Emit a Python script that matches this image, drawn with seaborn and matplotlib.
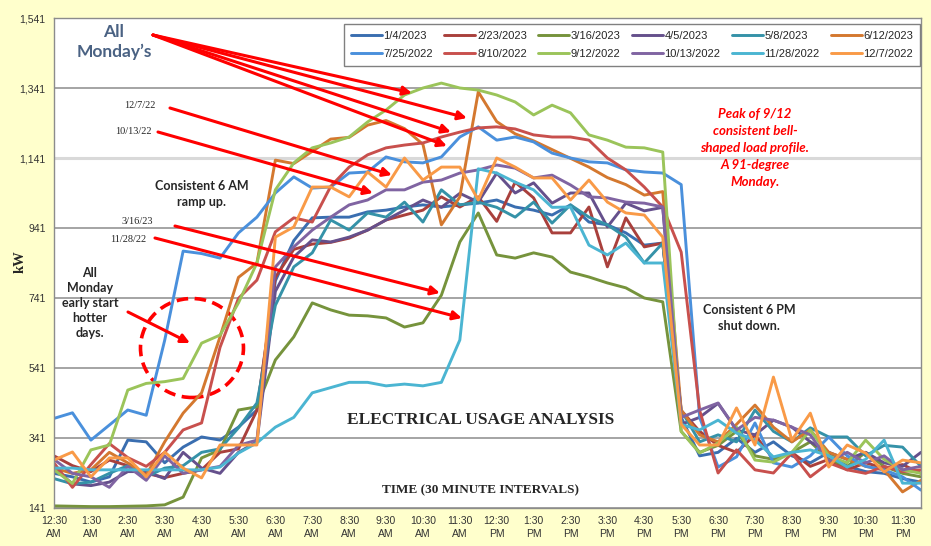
"""
Monday load profiles - electrical usage analysis (30 minute intervals).
"""
import numpy as np
import pandas as pd
import matplotlib
matplotlib.use("Agg")
import matplotlib.pyplot as plt
from matplotlib.patches import Ellipse
import seaborn as sns

# ---- data -------------------------------------------------------------
tick_labels = ["12:30\nAM", "1:30\nAM", "2:30\nAM", "3:30\nAM", "4:30\nAM", "5:30\nAM",
               "6:30\nAM", "7:30\nAM", "8:30\nAM", "9:30\nAM", "10:30\nAM", "11:30\nAM",
               "12:30\nPM", "1:30\nPM", "2:30\nPM", "3:30\nPM", "4:30\nPM", "5:30\nPM",
               "6:30\nPM", "7:30\nPM", "8:30\nPM", "9:30\nPM", "10:30\nPM", "11:30\nPM"]

dates = ["1/4/2023", "2/23/2023", "3/16/2023", "4/5/2023", "5/8/2023", "6/12/2023",
         "7/25/2022", "8/10/2022", "9/12/2022", "10/13/2022", "11/28/2022", "12/7/2022"]

kw_0104 = [240, 230, 215, 230, 335, 330, 270, 315, 344, 335, 372, 421,
           790, 905, 970, 972, 972, 987, 992, 1001, 1007, 1001, 1007, 1012,
           1021, 1001, 992, 978, 1007, 958, 950, 927, 892, 898, 400, 290,
           300, 340, 300, 330, 290, 270, 300, 260, 245, 240, 225, 215]
kw_0223 = [290, 262, 245, 278, 262, 240, 228, 240, 250, 300, 310, 420,
           800, 880, 895, 900, 912, 935, 964, 978, 992, 1030, 1001, 1030,
           960, 1072, 1027, 927, 927, 1001, 830, 970, 887, 898, 420, 360,
           320, 300, 350, 280, 300, 260, 280, 250, 270, 255, 265, 240]
kw_0316 = [147, 146, 145, 145, 146, 147, 150, 172, 284, 307, 421, 430,
           564, 630, 727, 707, 692, 690, 684, 658, 670, 749, 901, 984,
           864, 855, 870, 858, 815, 801, 784, 770, 741, 730, 360, 300,
           320, 360, 290, 280, 300, 330, 280, 260, 300, 260, 240, 230]
kw_0405 = [255, 210, 205, 215, 245, 245, 225, 300, 255, 240, 300, 330,
           760, 858, 907, 901, 915, 935, 964, 992, 1021, 1000, 1040, 1015,
           1098, 1041, 1070, 1012, 1041, 1041, 944, 1012, 990, 1000, 380, 400,
           440, 364, 350, 392, 372, 330, 300, 280, 300, 270, 260, 300]
kw_0508 = [225, 210, 215, 240, 262, 230, 255, 262, 300, 310, 370, 441,
           720, 830, 870, 964, 935, 984, 972, 1015, 958, 1050, 1007, 1015,
           1000, 972, 1015, 955, 1007, 972, 950, 915, 841, 898, 420, 330,
           350, 330, 421, 360, 330, 370, 344, 344, 290, 320, 315, 260]
kw_0612 = [255, 240, 250, 300, 270, 235, 330, 412, 470, 630, 800, 841,
           1135, 1125, 1160, 1195, 1200, 1235, 1248, 1225, 1180, 950, 1030, 1330,
           1245, 1210, 1190, 1165, 1140, 1115, 1085, 1065, 1035, 1045, 420, 350,
           330, 380, 435, 372, 330, 364, 300, 280, 260, 250, 187, 220]
kw_0725 = [397, 413, 335, 378, 421, 406, 620, 875, 868, 855, 927, 972,
           1041, 1087, 1055, 1058, 1098, 1101, 1144, 1130, 1127, 1144, 1201, 1230,
           1192, 1201, 1187, 1155, 1141, 1130, 1127, 1107, 1101, 1098, 1065, 400,
           258, 287, 384, 270, 258, 290, 344, 290, 260, 250, 230, 192]
kw_0810 = [270, 200, 265, 325, 285, 260, 300, 364, 384, 600, 740, 792,
           930, 970, 958, 1060, 1115, 1150, 1170, 1178, 1184, 1201, 1215, 1227,
           1230, 1224, 1207, 1201, 1201, 1192, 1141, 1107, 1058, 1001, 872, 420,
           241, 307, 250, 241, 298, 230, 270, 250, 240, 260, 245, 250]
kw_0912 = [250, 211, 307, 321, 478, 497, 502, 511, 612, 635, 727, 841,
           1050, 1127, 1170, 1184, 1201, 1244, 1278, 1321, 1341, 1355, 1341, 1335,
           1321, 1301, 1264, 1292, 1270, 1207, 1192, 1172, 1170, 1158, 360, 298,
           327, 372, 278, 272, 300, 364, 290, 270, 335, 280, 250, 240]
kw_1013 = [280, 240, 230, 200, 260, 220, 290, 240, 250, 260, 320, 335,
           830, 887, 935, 972, 1007, 1021, 1050, 1050, 1072, 1078, 1098, 1107,
           1121, 1112, 1084, 1092, 1064, 1030, 1027, 1015, 1012, 1001, 400, 421,
           441, 364, 400, 392, 372, 350, 275, 300, 270, 290, 250, 260]
kw_1128 = [255, 255, 250, 250, 250, 250, 250, 250, 250, 258, 298, 327,
           372, 400, 470, 485, 500, 500, 490, 495, 490, 500, 621, 1110,
           1098, 1072, 1050, 1000, 1001, 892, 864, 898, 841, 841, 380, 364,
           392, 355, 335, 287, 300, 307, 290, 258, 280, 335, 212, 212]
kw_1207 = [278, 301, 230, 284, 284, 230, 301, 255, 227, 321, 321, 321,
           915, 944, 1058, 1058, 1030, 1101, 1058, 1141, 1078, 1115, 1115, 1021,
           1141, 1115, 1084, 1084, 1021, 1078, 1015, 984, 978, 915, 380, 321,
           321, 427, 321, 515, 335, 412, 258, 321, 298, 244, 278, 270]

series = [kw_0104, kw_0223, kw_0316, kw_0405, kw_0508, kw_0612,
          kw_0725, kw_0810, kw_0912, kw_1013, kw_1128, kw_1207]

colors = ["#3A6EB0", "#A9403C", "#76933C", "#65508C", "#3592A8", "#D4782F",
          "#4A90DC", "#C8504D", "#9BC45A", "#8064A2", "#4BB5D2", "#F99A47"]

# ---- style ------------------------------------------------------------
sns.set_style("white")
plt.rcParams["font.family"] = ["Liberation Sans", "DejaVu Sans"]
CALIBRI = ["Lato", "DejaVu Sans"]
TIMES = ["Liberation Serif", "DejaVu Serif"]

n_slots = len(kw_0104)
slots = np.arange(n_slots)
df = pd.DataFrame({
    "slot": np.tile(slots, len(dates)),
    "kW": np.concatenate(series),
    "date": np.repeat(dates, n_slots),
})

fig = plt.figure(figsize=(9.31, 5.46), dpi=100, facecolor="#FFFFCC")
ax = fig.add_axes([54 / 931, 38 / 546, 867 / 931, 490 / 546])
ax.set_facecolor("white")

sns.lineplot(data=df, x="slot", y="kW", hue="date", hue_order=dates,
             palette=dict(zip(dates, colors)), linewidth=2.1, sort=False,
             ax=ax, legend=False)

# axes
ax.set_xlim(0, n_slots - 1)
ax.set_ylim(141, 1541)
yt = np.arange(141, 1542, 200)
ax.set_yticks(yt, labels=[f"{v:,}" for v in yt])
xlabels = []
for i in range(n_slots):
    xlabels.append(tick_labels[i // 2] if i % 2 == 0 else "")
ax.set_xticks(slots, labels=xlabels)
ax.tick_params(axis="both", direction="out", length=4, width=0.8,
               color="#808080", labelsize=7.5, labelcolor="#333333", pad=2)
for lbl in ax.get_xticklabels():
    lbl.set_linespacing(1.35)
ax.set_xlabel("")
ax.set_ylabel("")

ax.grid(axis="y", color="#8C8C8C", linewidth=1.1)
ax.set_axisbelow(True)
for val, gl in zip(yt, ax.get_ygridlines()):
    if val == 1141:
        gl.set_color("#D9D9D9")
        gl.set_linewidth(2.2)
for sp in ax.spines.values():
    sp.set_color("#8C8C8C")
    sp.set_linewidth(1.0)

# legend, filled row by row like the Excel one
lines = ax.get_lines()[:len(dates)]
order = []
for c in range(6):
    order += [c, c + 6]
leg = ax.legend([lines[k] for k in order], [dates[k] for k in order],
                ncol=6, loc="upper right", bbox_to_anchor=(0.999, 0.988),
                fontsize=8, frameon=True, fancybox=False, framealpha=1,
                edgecolor="#808080", handlelength=2.8, handletextpad=0.15,
                columnspacing=1.0, borderpad=0.6, labelspacing=0.75,
                borderaxespad=0)
leg.get_frame().set_linewidth(1.0)

# ---- annotations ------------------------------------------------------
def px(x, y):
    """pixel position in the picture -> data coordinates"""
    return ((x - 54) / 18.45, 141 + (508 - y) / 0.35)

arrow = dict(arrowstyle="-|>", color="#FF0000", lw=2.2, mutation_scale=13,
             shrinkA=0, shrinkB=0)

ax.text(*px(114, 42), "All\nMonday\u2019s", ha="center", va="center",
        family=CALIBRI, fontweight="bold", fontsize=12.5, color="#4A6283",
        linespacing=1.3)
for tx, ty in [(412, 93), (467, 118), (451, 132), (447, 146)]:
    ax.annotate("", xy=px(tx, ty), xytext=px(153, 35), arrowprops=arrow)

ax.text(*px(140, 105), "12/7/22", ha="center", va="center", family=TIMES, fontsize=7.5)
ax.annotate("", xy=px(392, 175), xytext=px(170, 108), arrowprops=arrow)
ax.text(*px(133, 132), "10/13/22", ha="center", va="center", family=TIMES, fontsize=7.5)
ax.annotate("", xy=px(373, 193), xytext=px(158, 132), arrowprops=arrow)
ax.text(*px(137, 221), "3/16/23", ha="center", va="center", family=TIMES, fontsize=7.5)
ax.annotate("", xy=px(440, 293), xytext=px(175, 226), arrowprops=arrow)
ax.text(*px(128, 239), "11/28/22", ha="center", va="center", family=TIMES, fontsize=7.5)
ax.annotate("", xy=px(462, 318), xytext=px(155, 238), arrowprops=arrow)

ax.text(*px(202, 194), "Consistent 6 AM\nramp up.", ha="center", va="center",
        family=CALIBRI, fontweight="bold", fontsize=9, linespacing=1.45)
ax.text(*px(90, 303), "All\nMonday\nearly start\nhotter\ndays.", ha="center",
        va="center", family=CALIBRI, fontweight="bold", fontsize=9, linespacing=1.3)
ax.annotate("", xy=px(190, 343), xytext=px(128, 312), arrowprops=arrow)

cx, cy = px(192, 348)
ax.add_patch(Ellipse((cx, cy), width=103 / 18.45, height=99 / 0.35, fill=False,
                     edgecolor="#FF0000", lw=2.6, linestyle=(0, (3.2, 1.8))))

ax.text(*px(755, 148), "Peak of 9/12\nconsistent bell-\nshaped load profile.\nA 91-degree\nMonday.",
        ha="center", va="center", family=CALIBRI, fontweight="bold", style="italic",
        fontsize=9.5, color="#FF0000", linespacing=1.5)
ax.text(*px(749, 318), "Consistent 6 PM\nshut down.", ha="center", va="center",
        family=CALIBRI, fontweight="bold", fontsize=9, linespacing=1.45)

ax.text(*px(481, 420), "ELECTRICAL USAGE ANALYSIS", ha="center", va="center",
        family=TIMES, fontweight="bold", fontsize=12.5)
ax.text(*px(481, 490), "TIME (30 MINUTE INTERVALS)", ha="center", va="center",
        family=TIMES, fontweight="bold", fontsize=9.5)
fig.text(20 / 931, 1 - 262 / 546, "kW", rotation=90, ha="center", va="center",
         family=TIMES, fontweight="bold", fontsize=10.5)

fig.savefig("out.png", dpi=100, facecolor=fig.get_facecolor())
plt.close(fig)
